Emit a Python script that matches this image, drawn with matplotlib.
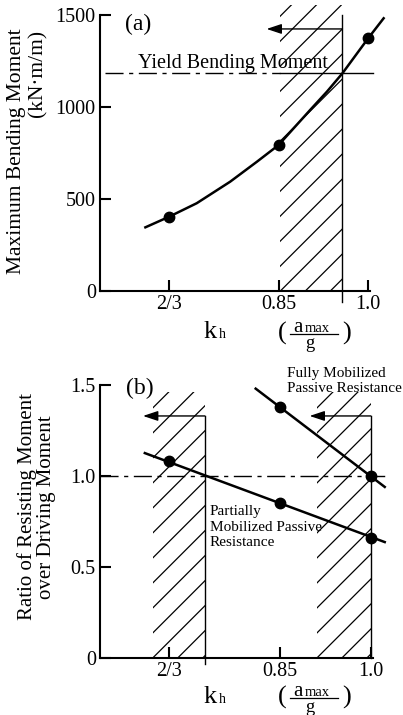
import matplotlib
matplotlib.use("Agg")
import matplotlib.pyplot as plt
from matplotlib.patches import Rectangle
from matplotlib.lines import Line2D
from matplotlib.transforms import IdentityTransform
import numpy as np

plt.rcParams['font.family'] = ['Liberation Serif', 'DejaVu Serif']
plt.rcParams['mathtext.fontset'] = 'stix'

# ---------------- data ----------------
# (a) maximum bending moment vs kh
kh_points_a = [2/3, 0.85, 1.0]
moment_points = [404, 793, 1373]
curve_kh = [0.627, 0.667, 0.713, 0.769, 0.814, 0.85, 0.903, 0.931, 0.957, 1.0, 1.026]
curve_moment = [346, 404, 477, 594, 703, 793, 984, 1083, 1183, 1373, 1482]
yield_moment = 1183
yield_line_kh = [0.559, 0.853, 1.008]
hatch_a = (0.853, 0.957)
arrow_a = (0.957, 0.830, 1424)

# (b) ratio of resisting to driving moment
kh_points_b = [2/3, 0.85, 1.0]
ratio_partial = [1.08, 0.85, 0.66]
partial_line_kh = [0.627, 1.023]
partial_line_ratio = [1.126, 0.637]
full_points_kh = [0.85, 1.0]
ratio_full = [1.38, 1.0]
full_line_kh = [0.81, 1.023]
full_line_ratio = [1.48, 0.94]
hatch_b_left = (0.640, 0.726)
hatch_b_right = (0.911, 1.0)
arrows_b = [(0.726, 0.624, 1.33), (1.0, 0.899, 1.33)]

xtick_vals = [2/3, 0.85, 1.0]
xtick_labels = ['2/3', '0.85', '1.0']
ytick_a = [0, 500, 1000, 1500]
ytick_a_labels = ['0', '500', '1000', '1500']
ytick_b = [0, 0.5, 1.0, 1.5]
ytick_b_labels = ['0', '0.5', '1.0', '1.5']

W, H = 403, 715
DPI = 100
fig = plt.figure(figsize=(W / DPI, H / DPI), dpi=DPI)

def fx(px):
    return px / W

def fy(py):
    return 1 - py / H

ax_a = fig.add_axes([fx(100), fy(291), 292 / W, 288 / H])
ax_b = fig.add_axes([fx(100), fy(658), 292 / W, 293 / H])

ax_a.set_xlim(0.551, 1.040)
ax_a.set_ylim(0, 1565)
ax_b.set_xlim(0.553, 1.035)
ax_b.set_ylim(0, 1.61)

LW = 1.5
for ax, yt, ytl, ytop in [(ax_a, ytick_a, ytick_a_labels, 1500), (ax_b, ytick_b, ytick_b_labels, 1.5)]:
    ax.patch.set_visible(False)
    for s in ['top', 'right']:
        ax.spines[s].set_visible(False)
    ax.spines['left'].set_linewidth(LW)
    ax.spines['bottom'].set_linewidth(LW)
    ax.spines['left'].set_bounds(0, ytop)
    ax.spines['bottom'].set_bounds(ax.get_xlim()[0], 1.003)
    ax.set_xticks(xtick_vals)
    ax.set_xticklabels(xtick_labels)
    ax.set_yticks(yt)
    ax.set_yticklabels(ytl)
    ax.tick_params(axis='both', direction='in', length=8, width=LW, labelsize=14.5)
    ax.tick_params(axis='x', pad=3)
    ax.tick_params(axis='y', pad=3)

fig.canvas.draw()

def hatch(ax, x0, x1, y0, y1, spacing=25):
    rect = Rectangle((x0, y0), x1 - x0, y1 - y0, fill=False, linewidth=0)
    ax.add_patch(rect)
    (px0, py0) = ax.transData.transform((x0, y0))
    (px1, py1) = ax.transData.transform((x1, y1))
    h = py1 - py0
    c = px0 - py0
    k0 = int(np.floor(-(h + 10) / spacing)) - 1
    k1 = int(np.ceil((px1 - px0) / spacing)) + 1
    for k in range(k0, k1):
        cc = c + k * spacing
        ln = Line2D([py0 + cc - 5, py1 + cc + 5], [py0 - 5, py1 + 5], transform=IdentityTransform(),
                    color='black', lw=0.9)
        ln.set_clip_path(rect)
        fig.add_artist(ln)

ARROW = dict(arrowstyle='-|>,head_length=0.9,head_width=0.3', color='black', lw=1.0,
             shrinkA=0, shrinkB=0)

# ---------- panel (a) ----------
hatch(ax_a, hatch_a[0], hatch_a[1], 0, 1554)
ax_a.plot([hatch_a[1], hatch_a[1]], [-60, 1500], color='black', lw=1.0, clip_on=False)
ax_a.annotate('', xy=(arrow_a[1], arrow_a[2]), xytext=(arrow_a[0], arrow_a[2]), arrowprops=ARROW)
ax_a.plot(yield_line_kh[:2], [yield_moment] * 2, color='black', lw=1.0, linestyle=(0, (13, 4, 3, 4)))
ax_a.plot(yield_line_kh[1:], [yield_moment] * 2, color='black', lw=1.0)
ax_a.plot(curve_kh, curve_moment, color='black', lw=1.8, clip_on=False, solid_joinstyle='round')
ax_a.plot(kh_points_a, moment_points, 'o', color='black', markersize=7.5, clip_on=False)
ax_a.text(0.615, 1446, '(a)', fontsize=17, ha='center', va='center')
ax_a.text(0.615, 1212, 'Yield Bending Moment', fontsize=14.5, ha='left', va='baseline')

# ---------- panel (b) ----------
hatch(ax_b, hatch_b_left[0], hatch_b_left[1], 0, 1.46)
hatch(ax_b, hatch_b_right[0], hatch_b_right[1], 0, 1.46)
for i, (x0, x1, yv) in enumerate(arrows_b):
    ax_b.plot([x0, x0], [-0.035 if i == 0 else 0, yv], color='black', lw=1.0, clip_on=False)
    ax_b.annotate('', xy=(x1, yv), xytext=(x0, yv), arrowprops=ARROW)
ax_b.plot([0.553, 1.023], [1.0, 1.0], color='black', lw=1.0, linestyle=(0, (13, 4, 3, 4)))
ax_b.plot(partial_line_kh, partial_line_ratio, color='black', lw=1.8, clip_on=False)
ax_b.plot(kh_points_b, ratio_partial, 'o', color='black', markersize=7.5, clip_on=False)
ax_b.plot(full_line_kh, full_line_ratio, color='black', lw=1.8, clip_on=False)
ax_b.plot(full_points_kh, ratio_full, 'o', color='black', markersize=7.5, clip_on=False)
ax_b.text(0.619, 1.48, '(b)', fontsize=17, ha='center', va='center')
ax_b.text(0.861, 1.60, 'Fully Mobilized\nPassive Resistance', fontsize=11, ha='left', va='top',
          linespacing=1.2, clip_on=False)
ax_b.text(0.734, 0.84, 'Partially\nMobilized Passive\nResistance', fontsize=11, ha='left', va='top',
          linespacing=1.25)

# ---------- axis labels ----------
fig.text(fx(17), fy(151), 'Maximum Bending Moment', rotation=90, ha='center', va='center', fontsize=15.5)
fig.text(fx(38), fy(73), '(kN\u00b7m/m)', rotation=90, ha='center', va='center', fontsize=15.5)
fig.text(fx(37), fy(507), 'Ratio of Resisting Moment\nover Driving Moment', rotation=90,
         ha='center', va='center', fontsize=15, linespacing=1.0)

def kh_label(ybase):
    fig.text(fx(204), fy(ybase), 'k', fontsize=19, ha='left', va='baseline')
    fig.text(fx(219), fy(ybase), 'h', fontsize=10, ha='left', va='baseline')

def frac_label(ybar):
    fig.text(fx(282), fy(ybar - 1), '(', fontsize=19, ha='center', va='center')
    fig.text(fx(347), fy(ybar - 1), ')', fontsize=19, ha='center', va='center')
    fig.text(fx(293), fy(ybar - 2), 'a', fontsize=15, ha='left', va='baseline')
    fig.text(fx(305), fy(ybar - 2), 'max', fontsize=10.5, ha='left', va='baseline')
    fig.add_artist(Line2D([fx(290), fx(338)], [fy(ybar), fy(ybar)], color='black', lw=0.9,
                          transform=fig.transFigure))
    fig.text(fx(310), fy(ybar + 1), 'g', fontsize=13.5, ha='center', va='top')

kh_label(338)
frac_label(334)
kh_label(703)
frac_label(698)

fig.savefig('out.png', dpi=DPI)
